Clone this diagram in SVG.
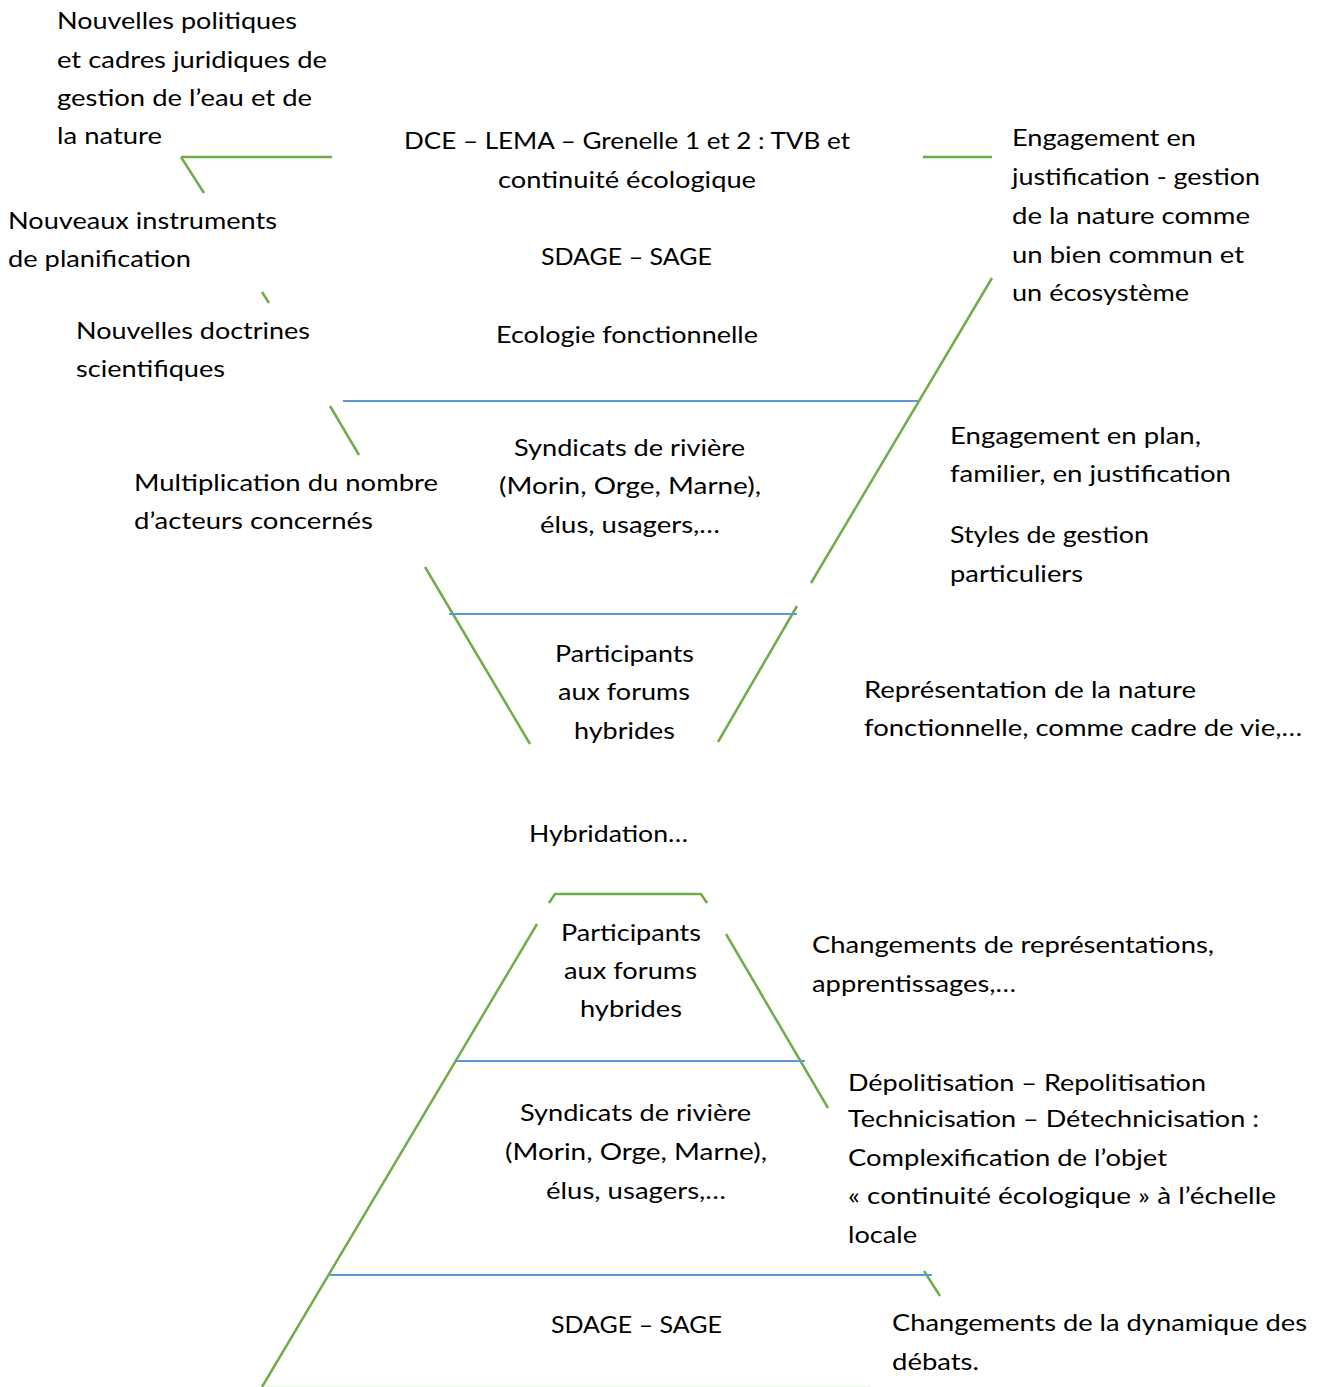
<svg xmlns="http://www.w3.org/2000/svg" width="1318" height="1387" viewBox="0 0 1318 1387">
<style>
text{font-family:Lato,"Liberation Sans",sans-serif;font-size:23.7px;fill:#000}
.g{stroke:#70AD47;stroke-width:2.5;fill:none}
.b{stroke:#5B9BD5;stroke-width:2;fill:none}
</style>
<rect width="1318" height="1387" fill="#fff"/>
<g id="connectors">
<line class="g" x1="181" y1="157" x2="332" y2="157"/>
<line class="g" x1="181" y1="157" x2="204" y2="193"/>
<line class="g" x1="262" y1="292" x2="269" y2="303"/>
<line class="g" x1="330" y1="406" x2="359" y2="455"/>
<line class="g" x1="425" y1="567" x2="530" y2="744"/>
<line class="g" x1="923" y1="157" x2="992" y2="157"/>
<line class="g" x1="992" y1="278" x2="811" y2="583"/>
<line class="g" x1="797" y1="606" x2="718" y2="742"/>
<polyline class="g" points="549,903 555,894 701,894 707,903"/>
<line class="g" x1="537" y1="924" x2="262" y2="1387"/>
<line class="g" x1="726" y1="934" x2="828" y2="1108"/>
<line class="g" x1="924" y1="1271" x2="940" y2="1296"/>
<line x1="265" y1="1386.5" x2="870" y2="1386.5" stroke="#70AD47" stroke-opacity="0.12" stroke-width="1"/>
<line class="b" x1="343" y1="401" x2="918" y2="401"/>
<line class="b" x1="449" y1="614" x2="797" y2="614"/>
<line class="b" x1="456" y1="1061" x2="805" y2="1061"/>
<line class="b" x1="330" y1="1275" x2="932" y2="1275"/>
</g>
<g transform="translate(0,-1)">
<g id="label-politiques">
<text x="57" y="30" textLength="240" lengthAdjust="spacingAndGlyphs">Nouvelles politiques</text>
<text x="57" y="69" textLength="270" lengthAdjust="spacingAndGlyphs">et cadres juridiques de</text>
<text x="57" y="107" textLength="255" lengthAdjust="spacingAndGlyphs">gestion de l’eau et de</text>
<text x="57" y="145" textLength="105" lengthAdjust="spacingAndGlyphs">la nature</text>
</g>
<g id="label-instruments">
<text x="8" y="230" textLength="269" lengthAdjust="spacingAndGlyphs">Nouveaux instruments</text>
<text x="8" y="268" textLength="183" lengthAdjust="spacingAndGlyphs">de planification</text>
</g>
<g id="label-doctrines">
<text x="76" y="340" textLength="234" lengthAdjust="spacingAndGlyphs">Nouvelles doctrines</text>
<text x="76" y="378" textLength="149" lengthAdjust="spacingAndGlyphs">scientifiques</text>
</g>
<g id="label-acteurs">
<text x="134" y="492" textLength="304" lengthAdjust="spacingAndGlyphs">Multiplication du nombre</text>
<text x="134" y="530" textLength="239" lengthAdjust="spacingAndGlyphs">d’acteurs concernés</text>
</g>
<g id="funnel-level-1">
<text x="404" y="150" textLength="446" lengthAdjust="spacingAndGlyphs">DCE – LEMA – Grenelle 1 et 2 : TVB et</text>
<text x="498" y="189" textLength="258" lengthAdjust="spacingAndGlyphs">continuité écologique</text>
<text x="541" y="266" textLength="171" lengthAdjust="spacingAndGlyphs">SDAGE – SAGE</text>
<text x="496" y="344" textLength="262" lengthAdjust="spacingAndGlyphs">Ecologie fonctionnelle</text>
</g>
<g id="label-engagement-justification">
<text x="1012" y="147" textLength="184" lengthAdjust="spacingAndGlyphs">Engagement en</text>
<text x="1012" y="186" textLength="248" lengthAdjust="spacingAndGlyphs">justification - gestion</text>
<text x="1012" y="225" textLength="238" lengthAdjust="spacingAndGlyphs">de la nature comme</text>
<text x="1012" y="264" textLength="232" lengthAdjust="spacingAndGlyphs">un bien commun et</text>
<text x="1012" y="302" textLength="177" lengthAdjust="spacingAndGlyphs">un écosystème</text>
</g>
<g id="funnel-level-2">
<text x="514" y="457" textLength="231" lengthAdjust="spacingAndGlyphs">Syndicats de rivière</text>
<text x="499" y="495" textLength="262" lengthAdjust="spacingAndGlyphs">(Morin, Orge, Marne),</text>
<text x="540" y="534" textLength="180" lengthAdjust="spacingAndGlyphs">élus, usagers,…</text>
</g>
<g id="label-engagement-plan">
<text x="950" y="445" textLength="251" lengthAdjust="spacingAndGlyphs">Engagement en plan,</text>
<text x="950" y="483" textLength="281" lengthAdjust="spacingAndGlyphs">familier, en justification</text>
</g>
<g id="label-styles">
<text x="950" y="544" textLength="199" lengthAdjust="spacingAndGlyphs">Styles de gestion</text>
<text x="950" y="583" textLength="133" lengthAdjust="spacingAndGlyphs">particuliers</text>
</g>
<g id="funnel-level-3">
<text x="555" y="663" textLength="139" lengthAdjust="spacingAndGlyphs">Participants</text>
<text x="558" y="701" textLength="132" lengthAdjust="spacingAndGlyphs">aux forums</text>
<text x="574" y="740" textLength="101" lengthAdjust="spacingAndGlyphs">hybrides</text>
</g>
<g id="label-representation">
<text x="864" y="699" textLength="332" lengthAdjust="spacingAndGlyphs">Représentation de la nature</text>
<text x="864" y="737" textLength="438" lengthAdjust="spacingAndGlyphs">fonctionnelle, comme cadre de vie,…</text>
</g>
<g id="label-hybridation">
<text x="529" y="843" textLength="159" lengthAdjust="spacingAndGlyphs">Hybridation…</text>
</g>
<g id="pyramid-level-1">
<text x="561" y="942" textLength="140" lengthAdjust="spacingAndGlyphs">Participants</text>
<text x="564" y="980" textLength="133" lengthAdjust="spacingAndGlyphs">aux forums</text>
<text x="580" y="1018" textLength="102" lengthAdjust="spacingAndGlyphs">hybrides</text>
</g>
<g id="label-changements-representations">
<text x="812" y="954" textLength="402" lengthAdjust="spacingAndGlyphs">Changements de représentations,</text>
<text x="812" y="993" textLength="204" lengthAdjust="spacingAndGlyphs">apprentissages,…</text>
</g>
<g id="pyramid-level-2">
<text x="520" y="1122" textLength="231" lengthAdjust="spacingAndGlyphs">Syndicats de rivière</text>
<text x="505" y="1161" textLength="262" lengthAdjust="spacingAndGlyphs">(Morin, Orge, Marne),</text>
<text x="546" y="1200" textLength="180" lengthAdjust="spacingAndGlyphs">élus, usagers,…</text>
</g>
<g id="label-depolitisation">
<text x="848" y="1092" textLength="358" lengthAdjust="spacingAndGlyphs">Dépolitisation – Repolitisation</text>
<text x="848" y="1128" textLength="411" lengthAdjust="spacingAndGlyphs">Technicisation – Détechnicisation :</text>
<text x="848" y="1167" textLength="319" lengthAdjust="spacingAndGlyphs">Complexification de l’objet</text>
<text x="848" y="1205" textLength="428" lengthAdjust="spacingAndGlyphs">« continuité écologique » à l’échelle</text>
<text x="848" y="1244" textLength="69" lengthAdjust="spacingAndGlyphs">locale</text>
</g>
<g id="pyramid-level-3">
<text x="551" y="1334" textLength="171" lengthAdjust="spacingAndGlyphs">SDAGE – SAGE</text>
</g>
<g id="label-dynamique">
<text x="892" y="1332" textLength="415" lengthAdjust="spacingAndGlyphs">Changements de la dynamique des</text>
<text x="892" y="1371" textLength="87" lengthAdjust="spacingAndGlyphs">débats.</text>
</g>
</g>
</svg>
